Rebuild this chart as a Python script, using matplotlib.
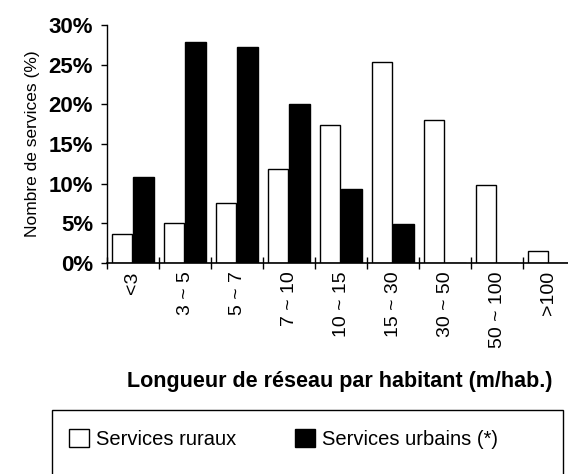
import numpy as np
import matplotlib.pyplot as plt
from matplotlib.patches import Rectangle

# classes de longueur de réseau (m/hab.)
classes = ['<3', '3 ~ 5', '5 ~ 7', '7 ~ 10', '10 ~ 15', '15 ~ 30', '30 ~ 50', '50 ~ 100', '>100']
ruraux = [3.6, 5.0, 7.6, 11.9, 17.4, 25.3, 18.0, 9.8, 1.5]
urbains = [10.9, 27.8, 27.2, 20.1, 9.3, 4.9, 0, 0, 0]
yticks = [0, 5, 10, 15, 20, 25, 30]

arial = ['Liberation Sans', 'DejaVu Sans']

fig = plt.figure(figsize=(5.68, 4.74), dpi=100)
W, H = 568, 474
ax = fig.add_axes([107 / W, (H - 263) / H, 468 / W, 238 / H])

x = np.arange(len(classes))
ax.bar(x + 0.1, ruraux, width=0.39, align='edge', color='white', edgecolor='black', linewidth=1)
ax.bar(x + 0.5, urbains, width=0.40, align='edge', color='black', edgecolor='black', linewidth=1)

ax.set_xlim(0, 9)
ax.set_ylim(0, 30)
for s in ['top', 'right']:
    ax.spines[s].set_visible(False)
ax.spines['left'].set_linewidth(1)
ax.spines['bottom'].set_linewidth(1.2)

ax.set_yticks(yticks)
ax.set_yticklabels([f'{v}%' for v in yticks], fontfamily=arial, fontweight='bold', fontsize=16)
ax.tick_params(axis='y', direction='out', length=4, width=1, pad=6)

# graduations aux limites de classes, étiquettes au centre
ax.set_xticks(np.arange(0, 10))
ax.set_xticklabels([])
ax.tick_params(axis='x', which='major', direction='inout', length=8, width=1)
ax.set_xticks(x + 0.5, minor=True)
ax.set_xticklabels(classes, minor=True, rotation=90, fontfamily=arial, fontsize=14, va='top')
ax.tick_params(axis='x', which='minor', length=0, pad=6)

ax.set_ylabel('Nombre de services (%)', fontfamily=arial, fontsize=12.5, labelpad=6)
fig.text(340 / W, 1 - 381 / H, 'Longueur de réseau par habitant (m/hab.)',
         ha='center', va='center', fontfamily=arial, fontweight='bold', fontsize=15.5)

# cadre de la légende
fig.patches.append(Rectangle((52 / W, -0.05), 511 / W, (H - 410) / H + 0.05,
                             transform=fig.transFigure, facecolor='none',
                             edgecolor='black', linewidth=1))
h1 = Rectangle((0, 0), 1, 1, facecolor='white', edgecolor='black', linewidth=1)
h2 = Rectangle((0, 0), 1, 1, facecolor='black', edgecolor='black', linewidth=1)
fig.legend([h1, h2], ['Services ruraux', 'Services urbains (*)'], ncol=2,
           loc='center left', bbox_to_anchor=(51 / W, 1 - 439 / H), frameon=False,
           prop={'family': arial, 'size': 14.5}, handlelength=1.0, handleheight=1.0,
           handletextpad=0.35, columnspacing=2.9)

fig.savefig('out.png', dpi=100)
